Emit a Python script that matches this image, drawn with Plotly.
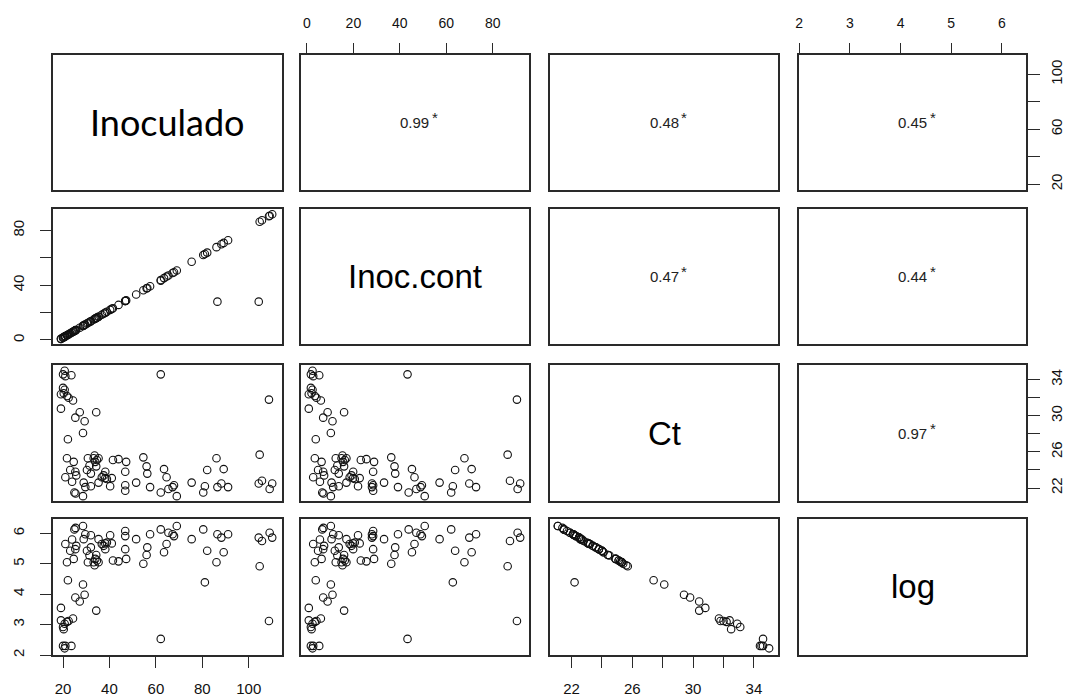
import plotly.graph_objects as go

# ---------------- data ----------------
inoculado = [19.1, 19.1, 20.0, 20.3, 20.7, 21.7, 22.4, 24.3, 20.0, 21.0,
             23.6, 20.7, 22.1, 21.0, 21.7, 23.1, 24.6, 24.9, 25.4, 23.9,
             25.3, 25.7, 25.3, 27.2, 28.6, 29.3, 28.6, 28.9, 29.6, 30.3,
             30.7, 31.4, 32.0, 32.0, 33.2, 33.6, 33.9, 34.3, 34.6, 35.3,
             34.3, 35.3, 36.7, 37.5, 38.2, 38.9, 38.2, 40.3, 41.0, 41.5,
             43.9, 46.8, 46.8, 46.8, 47.2, 51.5, 54.6, 56.0, 56.3, 57.5,
             62.1, 62.1, 63.5, 64.6, 65.4, 67.2, 67.8, 69.0, 75.4, 80.4,
             81.1, 82.1, 86.1, 86.5, 88.2, 89.2, 91.1, 104.3, 104.7, 105.7,
             109.0, 108.7, 110.1]
inoc_cont = [0.8, 0.8, 1.7, 2.0, 2.4, 3.4, 4.1, 6.0, 1.7, 2.7,
             5.3, 2.4, 3.8, 2.7, 3.4, 4.8, 6.3, 6.6, 7.1, 5.6,
             7.0, 7.4, 7.0, 8.9, 10.3, 11.0, 10.3, 10.6, 11.3, 12.0,
             12.4, 13.1, 13.7, 13.7, 14.9, 15.3, 15.6, 16.0, 16.3, 17.0,
             16.0, 17.0, 18.4, 19.2, 19.9, 20.6, 19.9, 22.0, 22.7, 23.2,
             25.6, 28.5, 28.5, 28.5, 28.9, 33.2, 36.3, 37.7, 38.0, 39.2,
             43.8, 43.3, 45.2, 46.3, 47.1, 48.9, 49.5, 50.7, 57.1, 62.1,
             62.8, 63.8, 67.8, 28.0, 69.9, 70.9, 72.8, 28.0, 86.4, 87.4,
             90.7, 90.4, 91.8]
ct = [30.8, 32.4, 33.1, 32.5, 32.9, 32.2, 32.0, 31.7, 34.6, 34.4,
      34.5, 35.0, 27.4, 23.2, 25.3, 24.0, 24.9, 21.5, 21.4, 22.7,
      23.8, 23.4, 29.8, 30.4, 28.1, 29.4, 21.1, 22.6, 22.1, 24.0,
      25.3, 24.5, 22.2, 23.6, 25.3, 25.6, 24.9, 24.4, 25.1, 25.3,
      30.4, 22.6, 23.2, 23.4, 23.1, 23.0, 23.8, 22.2, 23.1, 25.1,
      25.2, 21.7, 22.3, 23.8, 24.9, 22.6, 25.4, 24.4, 23.6, 22.1,
      21.5, 34.6, 24.1, 23.2, 21.9, 22.1, 22.3, 21.1, 22.6, 21.5,
      22.2, 24.0, 25.3, 22.1, 22.5, 24.1, 22.1, 22.5, 25.7, 22.8,
      21.9, 31.8, 22.5]
log_vals = [3.55, 3.14, 2.92, 2.85, 3.03, 3.09, 3.12, 3.20, 2.30, 2.30,
            2.30, 2.22, 4.46, 5.65, 5.05, 5.43, 5.16, 6.13, 6.18, 5.80,
            5.48, 5.59, 3.89, 3.76, 4.32, 3.98, 6.24, 5.81, 5.97, 5.43,
            5.05, 5.27, 5.94, 5.54, 5.05, 4.95, 5.16, 5.29, 5.11, 5.05,
            3.46, 5.81, 5.65, 5.59, 5.67, 5.70, 5.48, 5.94, 5.67, 5.11,
            5.08, 6.08, 5.91, 5.48, 5.16, 5.81, 5.00, 5.29, 5.54, 5.97,
            6.13, 2.53, 5.38, 5.65, 6.02, 5.97, 5.91, 6.24, 5.81, 6.13,
            4.39, 5.43, 5.05, 5.97, 5.86, 5.38, 5.97, 5.86, 4.92, 5.75,
            6.02, 3.12, 5.86]

var_names = ["Inoculado", "Inoc.cont", "Ct", "log"]
corr_text = ["0.99", "0.48", "0.45", "0.47", "0.44", "0.97"]
corr_stars = ["*", "*", "*", "*", "*", "*"]

# axis ranges
axis_ranges = [[15.6, 114.3], [-2.6, 95.6], [20.58, 35.59], [1.995, 6.48]]

# tick values / labels
inoc_ticks = [20, 40, 60, 80, 100]
inoc_lbl_bottom = ["20", "40", "60", "80", "100"]
inoc_lbl_right = ["20", "", "60", "", "100"]
cont_ticks = [0, 20, 40, 60, 80]
cont_lbl_top = ["0", "20", "40", "60", "80"]
cont_lbl_left = ["0", "", "40", "", "80"]
ct_ticks = [22, 24, 26, 28, 30, 32, 34]
ct_lbl = ["22", "", "26", "", "30", "", "34"]
log_ticks = [2, 3, 4, 5, 6]
log_lbl = ["2", "3", "4", "5", "6"]

data = [inoculado, inoc_cont, ct, log_vals]

# ---------------- layout geometry ----------------
W, H = 1067, 697
col_px = [(49, 279), (298, 527), (548, 777), (798, 1026)]
row_px = [(55, 191), (210, 345), (367, 503), (521, 658)]

FRAME = "#2a2a2a"
TICKFONT = dict(family="Liberation Sans, Arial, sans-serif", size=15, color="#111111")
TOPFONT = dict(family="Liberation Sans Narrow, Liberation Sans, Arial, sans-serif", size=14, color="#111111")

fig = go.Figure()
layout = dict(
    width=W, height=H,
    margin=dict(l=0, r=0, t=0, b=0),
    paper_bgcolor="white", plot_bgcolor="white",
    showlegend=False,
    annotations=[],
)

corr_i = 0
for r in range(4):
    for c in range(4):
        k = r * 4 + c + 1
        xname = "xaxis" if k == 1 else f"xaxis{k}"
        yname = "yaxis" if k == 1 else f"yaxis{k}"
        xref = "x" if k == 1 else f"x{k}"
        yref = "y" if k == 1 else f"y{k}"
        x0, x1 = col_px[c]
        y0, y1 = row_px[r]
        xa = dict(domain=[x0 / W, x1 / W], range=axis_ranges[c], anchor=yref,
                  showline=True, mirror=True, linecolor=FRAME, linewidth=1.6,
                  showgrid=False, zeroline=False, showticklabels=False, ticks="",
                  fixedrange=True)
        ya = dict(domain=[1 - y1 / H, 1 - y0 / H], range=axis_ranges[r], anchor=xref,
                  showline=True, mirror=True, linecolor=FRAME, linewidth=1.6,
                  showgrid=False, zeroline=False, showticklabels=False, ticks="",
                  fixedrange=True)
        # x axes: top for col 2 and 4 (row 1), bottom for col 1 and 3 (row 4)
        if r == 0 and c == 1:
            xa.update(side="top", ticks="outside", ticklen=10, tickcolor=FRAME, tickwidth=1.3,
                      showticklabels=True, tickvals=cont_ticks, ticktext=cont_lbl_top,
                      tickfont=TOPFONT, ticklabelstandoff=9)
        if r == 0 and c == 3:
            xa.update(side="top", ticks="outside", ticklen=10, tickcolor=FRAME, tickwidth=1.3,
                      showticklabels=True, tickvals=log_ticks, ticktext=log_lbl,
                      tickfont=TOPFONT, ticklabelstandoff=9)
        if r == 3 and c == 0:
            xa.update(side="bottom", ticks="outside", ticklen=11, tickcolor=FRAME, tickwidth=1.3,
                      showticklabels=True, tickvals=inoc_ticks, ticktext=inoc_lbl_bottom,
                      tickfont=TICKFONT, ticklabelstandoff=8)
        if r == 3 and c == 2:
            xa.update(side="bottom", ticks="outside", ticklen=11, tickcolor=FRAME, tickwidth=1.3,
                      showticklabels=True, tickvals=ct_ticks, ticktext=ct_lbl,
                      tickfont=TICKFONT, ticklabelstandoff=8)
        # y axes: left for rows 2 and 4 (col 1), right for rows 1 and 3 (col 4)
        if c == 0 and r == 1:
            ya.update(side="left", ticks="outside", ticklen=11, tickcolor=FRAME, tickwidth=1.3,
                      showticklabels=True, tickvals=cont_ticks, ticktext=cont_lbl_left,
                      tickfont=TICKFONT, tickangle=-90, ticklabelstandoff=10)
        if c == 0 and r == 3:
            ya.update(side="left", ticks="outside", ticklen=11, tickcolor=FRAME, tickwidth=1.3,
                      showticklabels=True, tickvals=log_ticks, ticktext=log_lbl,
                      tickfont=TICKFONT, tickangle=-90, ticklabelstandoff=10)
        if c == 3 and r == 0:
            ya.update(side="right", ticks="outside", ticklen=12, tickcolor=FRAME, tickwidth=1.3,
                      showticklabels=True, tickvals=inoc_ticks, ticktext=inoc_lbl_right,
                      tickfont=TICKFONT, tickangle=-90, ticklabelstandoff=4)
        if c == 3 and r == 2:
            ya.update(side="right", ticks="outside", ticklen=12, tickcolor=FRAME, tickwidth=1.3,
                      showticklabels=True, tickvals=ct_ticks, ticktext=ct_lbl,
                      tickfont=TICKFONT, tickangle=-90, ticklabelstandoff=4)
        layout[xname] = xa
        layout[yname] = ya

        cx = (x0 + x1) / 2 / W
        cy = 1 - (y0 + y1) / 2 / H
        if r == c:
            fam = "Lato, Open Sans, sans-serif" if r == 0 else "Liberation Sans, Arial, sans-serif"
            size = 36 if r == 0 else 33
            layout["annotations"].append(dict(
                text=var_names[r], x=cx, y=cy, xref="paper", yref="paper",
                showarrow=False, xanchor="center", yanchor="middle",
                font=dict(family=fam, size=size, color="black")))
        elif r < c:
            cfont = dict(family="Liberation Sans, Arial, sans-serif", size=15, color="#222222")
            layout["annotations"].append(dict(
                text=corr_text[corr_i], x=cx, y=cy, xref="paper", yref="paper",
                showarrow=False, xanchor="center", yanchor="middle", font=cfont))
            layout["annotations"].append(dict(
                text=corr_stars[corr_i], x=cx, y=cy, xref="paper", yref="paper",
                showarrow=False, xanchor="left", yanchor="middle", xshift=15, yshift=5,
                font=cfont))
            corr_i += 1
        if r > c:
            fig.add_trace(go.Scatter(
                x=data[c], y=data[r], mode="markers", xaxis=xref, yaxis=yref,
                cliponaxis=False, hoverinfo="skip",
                marker=dict(symbol="circle-open", size=7.5, color="#111111",
                            line=dict(width=1.1, color="#111111"))))
        else:
            # invisible placeholder so the (empty) panel frame and axes are drawn
            fig.add_trace(go.Scatter(
                x=[axis_ranges[c][0]], y=[axis_ranges[r][0]], mode="markers",
                xaxis=xref, yaxis=yref, hoverinfo="skip",
                marker=dict(size=1, opacity=0)))

fig.update_layout(**layout)
fig.write_html("out.html")
